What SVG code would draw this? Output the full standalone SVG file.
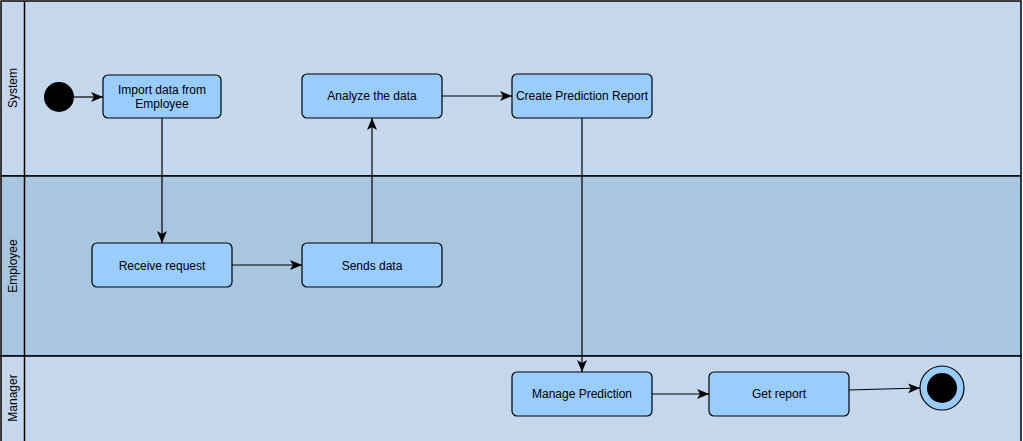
<svg xmlns="http://www.w3.org/2000/svg" width="1023" height="441" viewBox="0 0 1023 441">
<defs>
<style>
.lane{stroke:#000;stroke-width:1.5}
.act rect{fill:#99CCFF;stroke:#000;stroke-width:1.2}
text{font-family:"Liberation Sans",Arial,sans-serif;font-size:12px;fill:#000}
.act text{text-anchor:middle}
.lbl{text-anchor:middle}
.conn path{fill:none;stroke:#000;stroke-width:1.2;marker-end:url(#arr)}
</style>
<marker id="arr" viewBox="0 0 12 10" refX="12" refY="5" markerWidth="12" markerHeight="10" markerUnits="userSpaceOnUse" orient="auto">
<path d="M0,0 L12,5 L0,10 L3,5 Z" fill="#000"/>
</marker>
</defs>
<g id="lanes">
<rect x="1" y="1" width="1020" height="175" fill="#C5D7EC" class="lane"/>
<rect x="1" y="176" width="1020" height="180" fill="#A9C6E1" class="lane"/>
<rect x="1" y="356" width="1020" height="90" fill="#C5D7EC" class="lane"/>
<line x1="24.5" y1="1" x2="24.5" y2="441" class="lane"/>
<text class="lbl" transform="translate(17,88) rotate(-90)">System</text>
<text class="lbl" transform="translate(17,266) rotate(-90)">Employee</text>
<text class="lbl" transform="translate(17,398) rotate(-90)">Manager</text>
</g>
<g id="start"><circle cx="59" cy="97" r="15" fill="#000"/></g>
<g id="import" class="act"><rect x="103" y="75" width="118" height="43" rx="5"/><text x="162" y="94">Import data from</text><text x="162" y="108">Employee</text></g>
<g id="analyze" class="act"><rect x="302" y="74" width="140" height="44" rx="5"/><text x="372" y="100">Analyze the data</text></g>
<g id="create" class="act"><rect x="512" y="74" width="140" height="44" rx="5"/><text x="582" y="100">Create Prediction Report</text></g>
<g id="receive" class="act"><rect x="92" y="243" width="140" height="44" rx="5"/><text x="162" y="270">Receive request</text></g>
<g id="sends" class="act"><rect x="302" y="243" width="140" height="44" rx="5"/><text x="372" y="270">Sends data</text></g>
<g id="manage" class="act"><rect x="512" y="372" width="140" height="44" rx="5"/><text x="582" y="398">Manage Prediction</text></g>
<g id="getreport" class="act"><rect x="709" y="372" width="140" height="44" rx="5"/><text x="779" y="398">Get report</text></g>
<g id="end"><circle cx="942" cy="388" r="22" fill="#99CCFF" stroke="#000" stroke-width="1.2"/><circle cx="942" cy="388" r="15" fill="#000"/></g>
<g id="connectors" class="conn">
<path d="M74,97 L103,97"/>
<path d="M162,118 L162,243"/>
<path d="M232,265 L302,265"/>
<path d="M372,243 L372,118"/>
<path d="M442,96 L512,96"/>
<path d="M582,118 L582,372"/>
<path d="M652,394 L709,394"/>
<path d="M849,390 L920,388"/>
</g>
</svg>
